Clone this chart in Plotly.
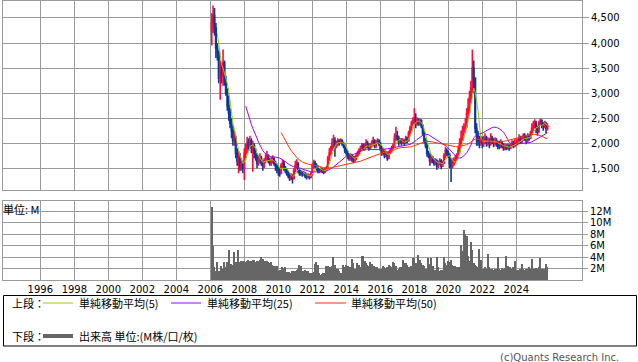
import plotly.graph_objects as go
import pandas as pd

# ---------------- data (monthly, Feb 2006 - Nov 2025) ----------------
months = pd.date_range("2006-02-01", "2025-11-01", freq="MS")

open_ = [
    4250, 4400, 4550, 4300, 3900, 3800, 3300, 3450, 3350, 3600, 3250,
    3000, 2750, 2600, 2400, 2250, 2050, 2100, 1800, 1650, 1700, 1550, 1600,
    1500, 1800, 1900, 2000, 1950, 2050, 1900, 1950, 1800, 1750, 1600, 1650,
    1700, 1600, 1550, 1650, 1700, 1750, 1650, 1600, 1650, 1700, 1600, 1550,
    1500, 1450, 1400, 1550, 1600, 1500, 1450, 1400, 1350, 1300, 1350, 1300,
    1450, 1550, 1600, 1450, 1400, 1400, 1380, 1400, 1350, 1330, 1350, 1320,
    1380, 1550, 1600, 1550, 1500, 1450, 1450, 1480, 1450, 1430, 1480, 1500,
    1700, 1800, 1900, 2000, 2050, 1950, 2000, 2050, 2000, 2050, 2000, 1950,
    1850, 1800, 1750, 1700, 1750, 1700, 1650, 1700, 1750, 1800, 1850, 1900,
    1950, 1900, 1950, 2000, 1950, 1900, 1950, 2000, 2050, 1950, 2000, 2050,
    2000, 1900, 1800, 1850, 1750, 1800, 1700, 1800, 1850, 1900, 1950, 2100,
    2150, 2100, 2000, 2050, 2000, 2050, 2000, 2100, 2050, 2200, 2300, 2400,
    2450, 2500, 2400, 2450, 2400, 2450, 2350, 2200, 2050, 1950, 1800, 1750,
    1650, 1700, 1650, 1600, 1650, 1550, 1600, 1650, 1550, 1600, 1750, 1850,
    1800, 1750, 1600, 1550, 1600, 1650, 1700, 1750, 1850, 2000, 2100, 2250,
    2300, 2350, 2600, 2700, 2900, 3100, 3500, 3300, 2300, 2150, 2050, 2000,
    2050, 2000, 2050, 2100, 2000, 2050, 2000, 2100, 2050, 2000, 2050, 2000,
    1950, 1950, 2000, 1950, 1900, 1950, 1900, 1950, 1900, 1950, 2000, 1950,
    2000, 2000, 2050, 2100, 2050, 2100, 2150, 2100, 2050, 2150, 2100, 2200,
    2300, 2350, 2400, 2300, 2250, 2400, 2450, 2400, 2350, 2400, 2300,
]
high = [
    4600, 4750, 4700, 4400, 4000, 3850, 3650, 3600, 3870, 3650, 3350,
    3100, 2950, 2700, 2500, 2350, 2250, 2150, 1900, 1850, 1800, 1700, 1650,
    1900, 2000, 2130, 2100, 2150, 2100, 2050, 2000, 1900, 1800, 1750, 1800,
    1750, 1650, 1700, 1780, 1850, 1780, 1700, 1720, 1760, 1720, 1650, 1600,
    1550, 1500, 1600, 1680, 1650, 1550, 1500, 1450, 1400, 1400, 1380, 1500,
    1650, 1680, 1620, 1500, 1460, 1450, 1450, 1420, 1400, 1400, 1380, 1420,
    1600, 1670, 1650, 1600, 1550, 1500, 1520, 1500, 1480, 1520, 1550, 1750,
    1900, 1950, 2100, 2170, 2120, 2050, 2100, 2080, 2100, 2080, 2030, 1980,
    1900, 1850, 1800, 1800, 1780, 1750, 1750, 1800, 1850, 1900, 1950, 2000,
    2000, 2000, 2080, 2050, 2000, 2000, 2060, 2130, 2080, 2060, 2100, 2080,
    2020, 1950, 1900, 1880, 1850, 1820, 1850, 1900, 1950, 2000, 2200, 2330,
    2250, 2150, 2100, 2100, 2100, 2080, 2150, 2130, 2250, 2350, 2450, 2520,
    2700, 2600, 2520, 2500, 2500, 2480, 2380, 2250, 2100, 2000, 1850, 1800,
    1780, 1750, 1700, 1700, 1680, 1650, 1700, 1680, 1650, 1800, 1930, 1900,
    1850, 1800, 1700, 1700, 1720, 1760, 1800, 1950, 2100, 2250, 2350, 2400,
    2500, 2700, 2900, 3050, 3250, 3870, 3650, 3300, 2400, 2250, 2150, 2150,
    2130, 2150, 2200, 2150, 2120, 2100, 2200, 2150, 2100, 2120, 2100, 2050,
    2050, 2080, 2050, 2000, 2000, 1980, 2000, 1980, 2000, 2060, 2050, 2080,
    2080, 2100, 2180, 2150, 2150, 2200, 2200, 2150, 2200, 2180, 2250, 2400,
    2450, 2480, 2450, 2350, 2450, 2500, 2480, 2420, 2450, 2420, 2400,
]
low = [
    3950, 4200, 4150, 3700, 3650, 3200, 2870, 3200, 3150, 3150, 2950,
    2650, 2450, 2300, 2100, 1950, 1950, 1700, 1550, 1400, 1450, 1450, 1400,
    1270, 1700, 1800, 1850, 1900, 1800, 1430, 1700, 1650, 1500, 1550, 1600,
    1550, 1450, 1500, 1600, 1650, 1600, 1550, 1550, 1600, 1550, 1450, 1400,
    1350, 1330, 1380, 1500, 1450, 1400, 1350, 1300, 1250, 1270, 1200, 1280,
    1420, 1500, 1400, 1350, 1350, 1330, 1350, 1300, 1280, 1300, 1280, 1300,
    1350, 1500, 1500, 1450, 1400, 1400, 1420, 1400, 1380, 1400, 1450, 1480,
    1650, 1750, 1850, 1900, 1730, 1900, 1950, 1950, 1980, 1950, 1900, 1800,
    1750, 1680, 1650, 1650, 1630, 1600, 1620, 1660, 1720, 1760, 1820, 1880,
    1850, 1850, 1900, 1900, 1850, 1880, 1920, 1950, 1900, 1900, 1980, 1950,
    1850, 1750, 1760, 1700, 1720, 1650, 1680, 1780, 1820, 1880, 1920, 2050,
    2050, 1950, 1980, 1950, 1980, 1950, 1980, 2000, 2030, 2150, 2250, 2350,
    2400, 2300, 2350, 2350, 2350, 2300, 2150, 2000, 1900, 1730, 1700, 1550,
    1600, 1600, 1550, 1560, 1470, 1500, 1560, 1480, 1520, 1580, 1700, 1750,
    1700, 1500, 1230, 1500, 1550, 1600, 1650, 1720, 1800, 1950, 2050, 2150,
    2200, 2300, 2500, 2600, 2800, 3000, 3000, 2200, 1950, 1950, 1900, 1950,
    1900, 1930, 1980, 1930, 1950, 1900, 1950, 1980, 1920, 1950, 1930, 1880,
    1880, 1900, 1900, 1850, 1860, 1860, 1870, 1850, 1880, 1920, 1900, 1920,
    1950, 1960, 2000, 2000, 2000, 2050, 2050, 1980, 2020, 2050, 2080, 2180,
    2250, 2300, 2200, 2150, 2200, 2350, 2300, 2250, 2300, 2200, 2250,
]
close = [
    4400, 4550, 4300, 3900, 3800, 3300, 3450, 3350, 3600, 3250, 3000,
    2750, 2600, 2400, 2250, 2050, 2100, 1800, 1650, 1700, 1550, 1600, 1500,
    1800, 1900, 2000, 1950, 2050, 1900, 1950, 1800, 1750, 1600, 1650, 1700,
    1600, 1550, 1650, 1700, 1750, 1650, 1600, 1650, 1700, 1600, 1550, 1500,
    1450, 1400, 1550, 1600, 1500, 1450, 1400, 1350, 1300, 1350, 1300, 1450,
    1550, 1600, 1450, 1400, 1400, 1380, 1400, 1350, 1330, 1350, 1320, 1380,
    1550, 1600, 1550, 1500, 1450, 1450, 1480, 1450, 1430, 1480, 1500, 1700,
    1800, 1900, 2000, 2050, 1950, 2000, 2050, 2000, 2050, 2000, 1950, 1850,
    1800, 1750, 1700, 1750, 1700, 1650, 1700, 1750, 1800, 1850, 1900, 1950,
    1900, 1950, 2000, 1950, 1900, 1950, 2000, 2050, 1950, 2000, 2050, 2000,
    1900, 1800, 1850, 1750, 1800, 1700, 1800, 1850, 1900, 1950, 2100, 2150,
    2100, 2000, 2050, 2000, 2050, 2000, 2100, 2050, 2200, 2300, 2400, 2450,
    2500, 2400, 2450, 2400, 2450, 2350, 2200, 2050, 1950, 1800, 1750, 1650,
    1700, 1650, 1600, 1650, 1550, 1600, 1650, 1550, 1600, 1750, 1850, 1800,
    1750, 1600, 1550, 1600, 1650, 1700, 1750, 1850, 2000, 2100, 2250, 2300,
    2350, 2600, 2700, 2900, 3100, 3500, 3300, 2300, 2150, 2050, 2000, 2050,
    2000, 2050, 2100, 2000, 2050, 2000, 2100, 2050, 2000, 2050, 2000, 1950,
    1950, 2000, 1950, 1900, 1950, 1900, 1950, 1900, 1950, 2000, 1950, 2000,
    2000, 2050, 2100, 2050, 2100, 2150, 2100, 2050, 2150, 2100, 2200, 2300,
    2350, 2400, 2300, 2250, 2400, 2450, 2400, 2350, 2400, 2300, 2350,
]
volume_m = [
    12.7, 6.0, 2.2, 1.5, 3.1, 1.5, 1.4, 2.5, 2.0, 3.1, 2.2,
    3.1, 5.2, 2.2, 2.8, 2.6, 4.9, 3.1, 2.9, 5.2, 3.1, 3.4, 3.4,
    3.4, 3.1, 3.4, 3.5, 3.4, 3.4, 3.5, 3.5, 3.1, 3.4, 3.4, 3.5,
    4.0, 3.6, 3.4, 3.4, 3.3, 3.1, 3.0, 3.1, 2.6, 2.5, 2.4, 2.5,
    1.6, 1.7, 1.6, 2.2, 2.1, 2.2, 1.4, 1.3, 1.4, 1.2, 1.5, 1.6,
    1.6, 1.7, 2.0, 2.6, 2.5, 1.6, 1.5, 1.7, 1.6, 1.6, 1.3, 1.3,
    1.3, 1.4, 2.8, 3.2, 2.6, 1.3, 0.9, 1.0, 1.2, 1.3, 2.5, 2.4,
    2.3, 2.2, 2.5, 4.0, 2.6, 2.0, 1.9, 1.6, 1.2, 1.3, 2.7, 2.3,
    2.7, 2.5, 2.3, 2.2, 3.6, 3.0, 2.0, 2.0, 2.9, 2.6, 2.2, 4.2,
    4.2, 3.3, 3.0, 2.6, 2.4, 3.2, 2.8, 2.5, 2.4, 2.3, 2.2, 2.0,
    1.9, 2.0, 2.5, 2.3, 2.1, 2.2, 2.6, 2.4, 2.2, 3.2, 3.0, 2.5,
    1.8, 1.9, 2.3, 2.2, 3.5, 3.0, 2.9, 2.6, 2.3, 2.2, 2.5, 3.9,
    3.9, 3.0, 2.9, 4.4, 3.5, 2.9, 2.7, 2.4, 2.0, 2.0, 3.9, 2.8,
    3.9, 2.5, 1.6, 1.8, 4.0, 2.2, 1.6, 1.7, 1.7, 4.0, 3.0, 2.6,
    3.4, 3.2, 3.5, 2.6, 2.5, 2.4, 2.2, 2.0, 2.2, 6.1, 5.0, 8.7,
    8.0, 7.7, 4.2, 3.4, 6.6, 5.3, 3.0, 2.6, 2.4, 2.2, 5.4, 3.5,
    2.0, 1.9, 2.2, 2.0, 4.6, 2.3, 2.0, 1.9, 1.8, 2.0, 2.0, 4.0,
    2.0, 1.8, 2.1, 2.0, 2.1, 4.2, 2.5, 2.3, 2.2, 2.0, 2.2, 3.3,
    1.7, 1.8, 1.7, 2.0, 2.8, 2.0, 1.8, 1.9, 2.0, 2.2, 2.0, 3.6,
    2.0, 1.9, 2.1, 2.0, 2.2, 3.9, 2.0, 1.8, 1.9, 2.8, 2.2,
]

price_ticks = [1500, 2000, 2500, 3000, 3500, 4000, 4500]
vol_ticks = [2, 4, 6, 8, 10, 12]
vol_tick_labels = ["2M", "4M", "6M", "8M", "10M", "12M"]
year_ticks = list(range(1996, 2025, 2))

ma_periods = [5, 25, 50]
ma_colors = ["#99cc00", "#9900ff", "#ff3300"]
ma_names = ["単純移動平均(5)", "単純移動平均(25)", "単純移動平均(50)"]

# ---------------- figure ----------------
W, H = 638, 362
ML, MR, MT, MB = 3, 56, 1, 82
PW, PH = W - ML - MR, H - MT - MB


def px(xp):
    return (xp - ML) / PW


def py(yp):
    return (H - MB - yp) / PH


GRID = "#9a9a9a"
FONT = "DejaVu Sans"
JFONT = "Noto Sans CJK JP"

fig = go.Figure()

fig.add_trace(go.Candlestick(
    x=months, open=open_, high=high, low=low, close=close,
    increasing=dict(line=dict(color="#ff0a3c", width=1.6), fillcolor="#ff0a3c"),
    decreasing=dict(line=dict(color="#0a3a9a", width=1.6), fillcolor="#0a3a9a"),
    whiskerwidth=0, xaxis="x2", yaxis="y2", showlegend=False, hoverinfo="skip"))

s = pd.Series(close, index=months)
for n, col, name in zip(ma_periods, ma_colors, ma_names):
    ma = s.rolling(n).mean()
    fig.add_trace(go.Scatter(x=months, y=ma.values, mode="lines",
                             line=dict(color=col, width=1), name=name,
                             xaxis="x2", yaxis="y2", showlegend=False))

fig.add_trace(go.Bar(x=months, y=volume_m, marker=dict(color="#666666", line=dict(width=0)),
                     width=31 * 24 * 3600 * 1000, xaxis="x", yaxis="y", showlegend=False))

xrange = ["1993-10-21", "2027-11-13"]
tickv = [f"{y}-01-01" for y in year_ticks]

fig.update_layout(
    width=W, height=H,
    margin=dict(l=ML, r=MR, t=MT, b=MB),
    paper_bgcolor="white", plot_bgcolor="white",
    bargap=0,
    showlegend=False,
    xaxis=dict(domain=[0, 1], range=xrange, type="date", anchor="y",
               tickvals=tickv, ticktext=[str(y) for y in year_ticks],
               showgrid=True, gridcolor=GRID, gridwidth=1,
               showline=True, linecolor=GRID, mirror=True, linewidth=1,
               ticks="", tickfont=dict(family=FONT, size=10, color="#000"),
               zeroline=False, rangeslider=dict(visible=False)),
    yaxis=dict(domain=[0, 0.2832], range=[0, 13.8], side="right", anchor="x",
               tickvals=vol_ticks, ticktext=vol_tick_labels,
               showgrid=True, gridcolor=GRID, gridwidth=1,
               showline=True, linecolor=GRID, mirror=True, linewidth=1,
               ticks="outside", ticklen=5, tickcolor=GRID,
               tickfont=dict(family=FONT, size=10, color="#000"),
               zeroline=False, fixedrange=True),
    xaxis2=dict(domain=[0, 1], range=xrange, type="date", anchor="y2",
                tickvals=tickv, showticklabels=False,
                showgrid=True, gridcolor=GRID, gridwidth=1,
                showline=True, linecolor=GRID, mirror=True, linewidth=1,
                ticks="", zeroline=False, rangeslider=dict(visible=False)),
    yaxis2=dict(domain=[0.3215, 1], range=[1062, 4839], side="right", anchor="x2",
                tickvals=price_ticks, tickformat=",d",
                showgrid=True, gridcolor=GRID, gridwidth=1,
                showline=True, linecolor=GRID, mirror=True, linewidth=1,
                ticks="outside", ticklen=6, tickcolor=GRID,
                tickfont=dict(family=FONT, size=10, color="#000"),
                zeroline=False),
)

shapes = []
annotations = []

annotations.append(dict(x=px(1), y=py(209), xref="paper", yref="paper",
                        text="単位: M", showarrow=False, xanchor="left", yanchor="middle",
                        font=dict(family=JFONT, size=11, color="#000")))

shapes.append(dict(type="rect", xref="paper", yref="paper",
                   x0=px(3.5), x1=px(636.5), y0=py(295.5), y1=py(346),
                   line=dict(color="#000", width=1), fillcolor="rgba(0,0,0,0)"))

leg_y1, leg_y2 = 303, 336
annotations.append(dict(x=px(10), y=py(leg_y1), xref="paper", yref="paper", text="上段：",
                        showarrow=False, xanchor="left", yanchor="middle",
                        font=dict(family=JFONT, size=11, color="#000")))
annotations.append(dict(x=px(10), y=py(leg_y2), xref="paper", yref="paper", text="下段：",
                        showarrow=False, xanchor="left", yanchor="middle",
                        font=dict(family=JFONT, size=11, color="#000")))

for (x0, x1, tx), col, name in zip([(43, 73, 77), (171, 201, 205), (315, 346, 349)], ma_colors, ma_names):
    shapes.append(dict(type="line", xref="paper", yref="paper", x0=px(x0), x1=px(x1),
                       y0=py(leg_y1), y1=py(leg_y1), line=dict(color=col, width=1)))
    annotations.append(dict(x=px(tx), y=py(leg_y1), xref="paper", yref="paper", text=name,
                            showarrow=False, xanchor="left", yanchor="middle",
                            font=dict(family=JFONT, size=11, color="#000")))

shapes.append(dict(type="line", xref="paper", yref="paper", x0=px(43), x1=px(73),
                   y0=py(leg_y2), y1=py(leg_y2), line=dict(color="#666666", width=4)))
annotations.append(dict(x=px(77), y=py(leg_y2), xref="paper", yref="paper",
                        text="出来高 単位:(M株/口/枚)", showarrow=False, xanchor="left",
                        yanchor="middle", font=dict(family=JFONT, size=11, color="#000")))

annotations.append(dict(x=px(621), y=py(357), xref="paper", yref="paper",
                        text="(c)Quants Research Inc.", showarrow=False, xanchor="right",
                        yanchor="middle", font=dict(family=FONT, size=10, color="#555")))

fig.update_layout(shapes=shapes, annotations=annotations)

fig.write_html("out.html", config={"displayModeBar": False},
               post_script="document.body.style.margin='0';")
